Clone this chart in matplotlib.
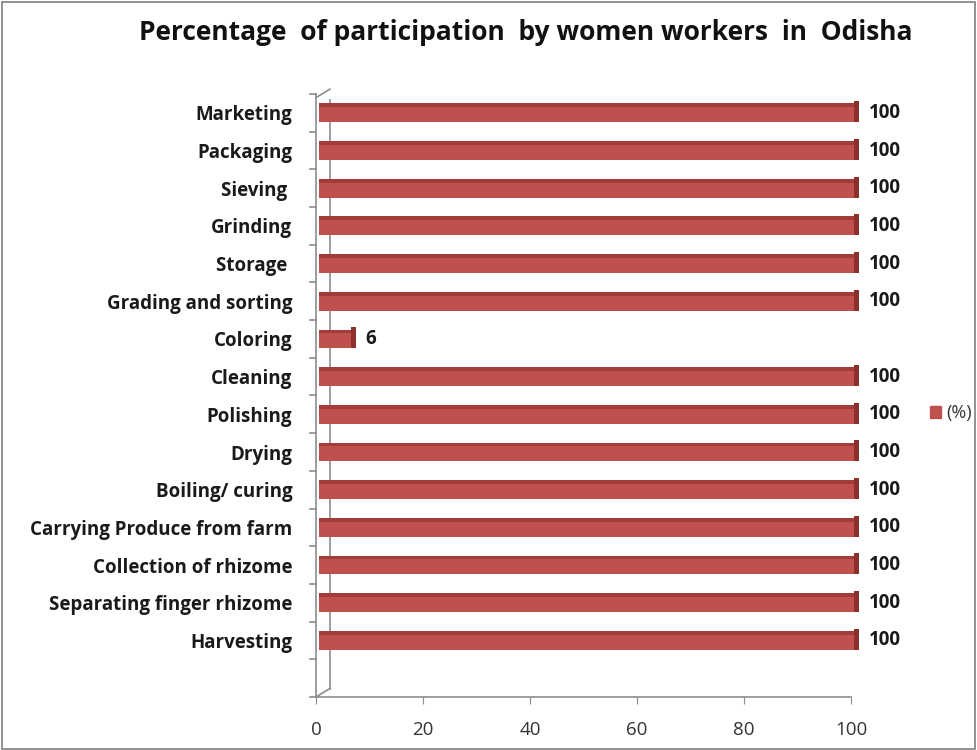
import matplotlib
matplotlib.use("Agg")
import matplotlib.pyplot as plt
from matplotlib.patches import Rectangle, Patch
import numpy as np

# data (bottom to top as drawn)
activities = [
    "Harvesting", "Separating finger rhizome", "Collection of rhizome",
    "Carrying Produce from farm", "Boiling/ curing", "Drying", "Polishing",
    "Cleaning", "Coloring", "Grading and sorting", "Storage ", "Grinding",
    "Sieving ", "Packaging", "Marketing",
]
percent = [100, 100, 100, 100, 100, 100, 100, 100, 6, 100, 100, 100, 100, 100, 100]
xticks = [0, 20, 40, 60, 80, 100]

plt.rcParams["font.family"] = ["Open Sans", "DejaVu Sans"]

bar_col = "#C0504D"
dark_col = "#8E2F2C"
axis_col = "#8C8C8C"

fig = plt.figure(figsize=(9.77, 7.5), dpi=100)
ax = fig.add_axes([0.3234, 0.0707, 0.5477, 0.804])

y = np.arange(len(activities))
bh = 0.5
bars = ax.barh(y, percent, height=bh, left=0.6, color=bar_col, edgecolor="none", zorder=3)
# darker top strip for the pseudo-3D look
top = ax.barh(y + bh / 2 - 0.05, percent, height=0.1, left=0.6, color=dark_col,
              edgecolor="none", alpha=0.6, zorder=4)
# darker right face
side = ax.barh(y + 0.03, [0.9] * len(percent), height=bh + 0.06,
               left=np.array(percent) + 0.6, color=dark_col, edgecolor="none", zorder=4)
for p in list(bars) + list(top) + list(side):
    p.set_clip_on(False)

for yi, v in zip(y, percent):
    ax.annotate(str(v), (v + 1.5, yi), xytext=(7, 0), textcoords="offset points",
                va="center", ha="left", fontsize=13.5, fontweight="bold",
                color="#1a1a1a", annotation_clip=False)

ax.set_xlim(0, 100)
ax.set_ylim(-1.5, 14.5)
ax.set_xticks(xticks)
ax.set_xticklabels([str(t) for t in xticks], fontsize=13.5, color="#333333")
ax.set_yticks(y)
ax.set_yticklabels(activities, fontsize=13.5, fontweight="bold", color="#1a1a1a")
ax.tick_params(axis="y", length=0, pad=17)
ax.tick_params(axis="x", length=5, color=axis_col, pad=12)

# boundary ticks on the category axis
for b in np.arange(-1.5, 15, 1.0):
    ax.plot([-0.012, 0], [b, b], transform=ax.get_yaxis_transform(),
            color=axis_col, lw=1.2, clip_on=False)

for s in ["top", "right"]:
    ax.spines[s].set_visible(False)
ax.spines["left"].set_color(axis_col)
ax.spines["bottom"].set_color(axis_col)
ax.spines["left"].set_linewidth(1.2)
ax.spines["bottom"].set_linewidth(1.2)

# back wall of the 3D frame
ax.plot([0.026, 0.026], [0.014, 0.99], transform=ax.transAxes, color=axis_col,
        lw=1.2, clip_on=False)
ax.plot([0, 0.026], [0, 0.014], transform=ax.transAxes, color=axis_col,
        lw=1.2, clip_on=False)
ax.plot([0, 0.026], [0.994, 1.008], transform=ax.transAxes, color=axis_col,
        lw=1.2, clip_on=False)

fig.text(0.538, 0.957, "Percentage  of participation  by women workers  in  Odisha",
         ha="center", va="center", fontsize=19, fontweight="bold", color="#111111")

fig.legend(handles=[Patch(color=bar_col, label="(%)")], loc="center left",
           bbox_to_anchor=(0.952, 0.449), frameon=False, fontsize=13,
           handlelength=0.6, handleheight=0.6, handletextpad=0.3,
           labelcolor="#333333", borderpad=0, borderaxespad=0)

fig.patches.append(Rectangle((0.002, 0.002), 0.996, 0.996, transform=fig.transFigure,
                             fill=False, edgecolor="#7f7f7f", lw=1.2))

fig.savefig("out.png", dpi=100)
